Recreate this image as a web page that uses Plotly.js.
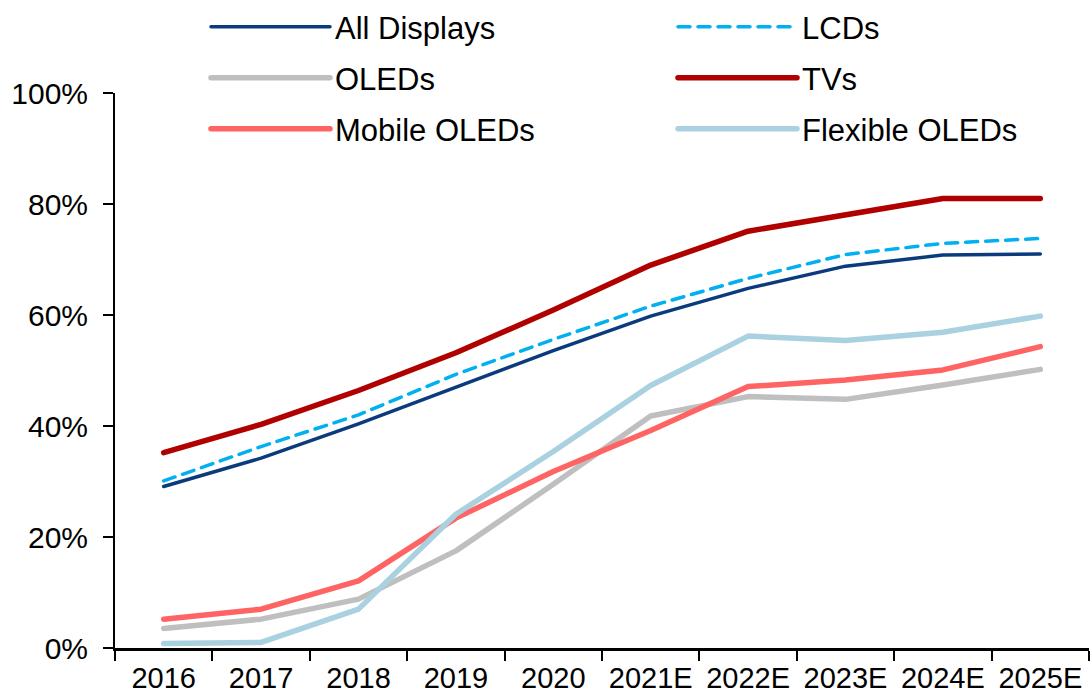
<!DOCTYPE html>
<html>
<head>
<meta charset="utf-8">
<script src="https://cdn.plot.ly/plotly-3.0.1.min.js"></script>
<style>
  html, body { margin: 0; padding: 0; background: #fff; }
  #chart { width: 1090px; height: 697px; }
  .scatterlayer path.js-line, .legendlines path { stroke-linecap: round; stroke-linejoin: round; }
</style>
</head>
<body>
<div id="chart"></div>
<script>
// Categories (years, E = estimate)
const years = ['2016', '2017', '2018', '2019', '2020', '2021E', '2022E', '2023E', '2024E', '2025E'];

// Series values in %
const allDisplays = [29.1, 34.2, 40.4, 47.0, 53.6, 59.8, 64.8, 68.8, 70.8, 71.0];
const lcds        = [30.1, 36.3, 42.0, 49.3, 55.6, 61.6, 66.6, 70.9, 72.9, 73.8];
const oleds       = [3.5, 5.2, 8.8, 17.5, 29.5, 41.8, 45.3, 44.8, 47.4, 50.2];
const tvs         = [35.2, 40.3, 46.4, 53.2, 60.9, 69.0, 75.1, 78.1, 81.0, 81.0];
const mobileOleds = [5.2, 7.0, 12.1, 23.4, 31.8, 39.2, 47.1, 48.3, 50.1, 54.3];
const flexOleds   = [0.8, 1.0, 7.0, 24.1, 35.4, 47.3, 56.2, 55.4, 56.9, 59.8];

// y axis ticks
const yTicks = [0, 20, 40, 60, 80, 100];
const yTickLabels = ['0%', '20%', '40%', '60%', '80%', '100%'];

const fontFamily = '"Liberation Sans", Arial, sans-serif';

// plot area in pixels, used to place the legend rows
const plotLeft = 115, plotRight = 1089, plotTop = 92, plotBottom = 648;
function px2x(px) { return (px - plotLeft) / (plotRight - plotLeft); }
function px2y(py) { return (plotBottom - py) / (plotBottom - plotTop); }

const series = [
    { name: 'All Displays',    y: allDisplays, color: '#0b3b7c', width: 3.5, dash: 'solid' },
    { name: 'LCDs',            y: lcds,        color: '#00b0f0', width: 3.5, dash: '12px,8px' },
    { name: 'OLEDs',           y: oleds,       color: '#bfbfbf', width: 5.5, dash: 'solid' },
    { name: 'TVs',             y: tvs,         color: '#b00000', width: 5.5, dash: 'solid' },
    { name: 'Mobile OLEDs',    y: mobileOleds, color: '#ff6464', width: 5.5, dash: 'solid' },
    { name: 'Flexible OLEDs',  y: flexOleds,   color: '#a9d1df', width: 5.5, dash: 'solid' }
];

// legend grid: 2 columns x 3 rows
const colX = [206, 673];
const rowY = [27, 78, 129];

var traces = [];
var layout = {
    width: 1090,
    height: 697,
    margin: { l: plotLeft, r: 1090 - plotRight, t: plotTop, b: 697 - plotBottom },
    paper_bgcolor: '#ffffff',
    plot_bgcolor: '#ffffff',
    font: { family: fontFamily, size: 30, color: '#000000' },
    showlegend: true,
    xaxis: {
        type: 'category',
        range: [-0.5, 9.5],
        showgrid: false,
        zeroline: false,
        showline: true,
        linecolor: '#000000',
        linewidth: 3,
        ticks: 'outside',
        tickson: 'boundaries',
        ticklen: 10,
        tickwidth: 2,
        tickcolor: '#000000',
        ticklabelstandoff: 2,
        tickfont: { size: 29 }
    },
    yaxis: {
        range: [0, 100],
        tickmode: 'array',
        tickvals: yTicks,
        ticktext: yTickLabels,
        showgrid: false,
        zeroline: false,
        showline: true,
        linecolor: '#000000',
        linewidth: 2,
        ticks: 'outside',
        ticklen: 10,
        tickwidth: 2,
        tickcolor: '#000000',
        ticklabelstandoff: 9,
        tickfont: { size: 30 }
    }
};

series.forEach(function (s, i) {
    const legendId = i === 0 ? 'legend' : 'legend' + (i + 1);
    traces.push({
        x: years,
        y: s.y,
        name: s.name,
        type: 'scatter',
        mode: 'lines',
        line: { color: s.color, width: s.width, dash: s.dash },
        legend: legendId,
        hoverinfo: 'skip'
    });
    layout[legendId] = {
        x: px2x(colX[i % 2]),
        y: px2y(rowY[Math.floor(i / 2)]),
        xanchor: 'left',
        yanchor: 'middle',
        orientation: 'h',
        itemwidth: 119,
        bgcolor: 'rgba(0,0,0,0)',
        borderwidth: 0,
        font: { family: fontFamily, size: 31, color: '#000000' }
    };
});

Plotly.newPlot('chart', traces, layout, { staticPlot: true });
</script>
</body>
</html>
